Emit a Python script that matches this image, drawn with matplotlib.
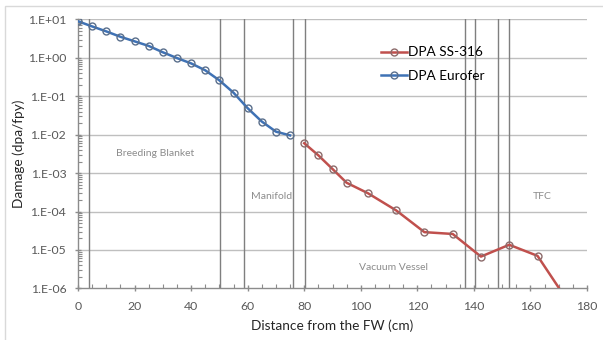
import math
import matplotlib
matplotlib.use("Agg")
import matplotlib.pyplot as plt
from matplotlib.patches import Rectangle
from matplotlib.ticker import LogLocator, FixedLocator, NullFormatter, FuncFormatter

plt.rcParams['font.family'] = ['Lato', 'DejaVu Sans']

# DPA in Eurofer (blanket region)
eurofer_x = [0, 5, 10, 15, 20, 25, 30, 35, 40, 45, 50, 55, 60, 65, 70, 75]
eurofer_dpa = [9.0, 6.6, 4.9, 3.55, 2.7, 2.05, 1.4, 0.99, 0.72, 0.475,
               0.26, 0.124, 0.049, 0.022, 0.012, 0.0096]

# DPA in SS-316 (manifold, vacuum vessel, TFC)
ss316_x = [80, 85, 90, 95, 102.5, 112.5, 122.5, 132.5, 142.5, 152.5, 162.5, 172.5]
ss316_dpa = [0.006, 0.0029, 0.00128, 5.6e-4, 3.0e-4, 1.07e-4, 2.9e-5,
             2.6e-5, 6.7e-6, 1.36e-5, 7.0e-6, 5.5e-7]

# component boundaries (cm)
boundaries = [4, 50.3, 58.6, 75.9, 80.1, 136.8, 140.4, 148.5, 152.5]

regions = [("Breeding Blanket", 27.4, 3.2e-3),
           ("Manifold", 68.3, 2.5e-4),
           ("Vacuum Vessel", 111.5, 3.4e-6),
           ("TFC", 164.2, 2.5e-4)]

blue = '#3f72b5'
red = '#c0504d'
grid = '#bfbfbf'
txt = '#595959'

fig = plt.figure(figsize=(6.03, 3.40), dpi=100)
# chart area border (runs off the right and bottom edges)
fig.patches.append(Rectangle((4.7 / 603, -0.1), 1.2, 1.1 - 5.7 / 340,
                             transform=fig.transFigure, fill=False,
                             edgecolor='#d9d9d9', linewidth=1.0))
ax = fig.add_axes([78 / 603, 51.7 / 340, 509 / 603, 268.8 / 340])

ax.set_yscale('log')
ax.set_xlim(0, 180)
ax.set_ylim(1e-6, 1e1)

for y in [1e-5, 1e-4, 1e-3, 1e-2, 1e-1, 1e0, 1e1]:
    ax.axhline(y, color=grid, linewidth=1.0, zorder=0)
for b in boundaries:
    ax.axvline(b, color='#7f7f7f', linewidth=1.0, zorder=1)

ax.plot(ss316_x, ss316_dpa, color=red, linewidth=1.8, marker='o', markersize=5,
        markerfacecolor='none', markeredgecolor='#8c6b6b', markeredgewidth=1.0,
        label='DPA SS-316', zorder=3)
ax.plot(eurofer_x, eurofer_dpa, color=blue, linewidth=1.8, marker='o', markersize=5,
        markerfacecolor='none', markeredgecolor='#5a6f8c', markeredgewidth=1.0,
        label='DPA Eurofer', zorder=3)

for name, x, y in regions:
    ax.text(x, y, name, ha='center', va='center', fontsize=7.5, color='#8c8c8c')

for s in ['top', 'right']:
    ax.spines[s].set_visible(False)
for s in ['left', 'bottom']:
    ax.spines[s].set_color('#8c8c8c')
    ax.spines[s].set_linewidth(1.0)

ax.yaxis.set_major_locator(LogLocator(base=10, numticks=10))
ax.yaxis.set_minor_locator(LogLocator(base=10, subs=range(2, 10), numticks=10))
ax.yaxis.set_minor_formatter(NullFormatter())
ax.yaxis.set_major_formatter(FuncFormatter(lambda v, p: '1.E%+03d' % round(math.log10(v))))
ax.xaxis.set_major_locator(FixedLocator(range(0, 181, 20)))
ax.xaxis.set_minor_locator(FixedLocator(range(0, 181, 5)))
ax.tick_params(axis='both', which='major', labelsize=8.8, labelcolor=txt,
               color='#8c8c8c', direction='inout', length=5, width=1.0, pad=6)
ax.tick_params(axis='x', which='major', pad=7)
ax.tick_params(axis='both', which='minor', color='#8c8c8c', direction='in',
               length=3, width=0.8)

ax.set_xlabel('Distance from the FW (cm)', fontsize=9.8, color='#262626', labelpad=5)
ax.set_ylabel('Damage (dpa/fpy)', fontsize=9.8, color='#262626', labelpad=2)

ax.legend(loc='upper left', bbox_to_anchor=(0.585, 0.92), frameon=False,
          fontsize=9.8, handlelength=1.9, handletextpad=0.1, labelspacing=0.85,
          borderaxespad=0)

fig.savefig('out.png', dpi=100)
